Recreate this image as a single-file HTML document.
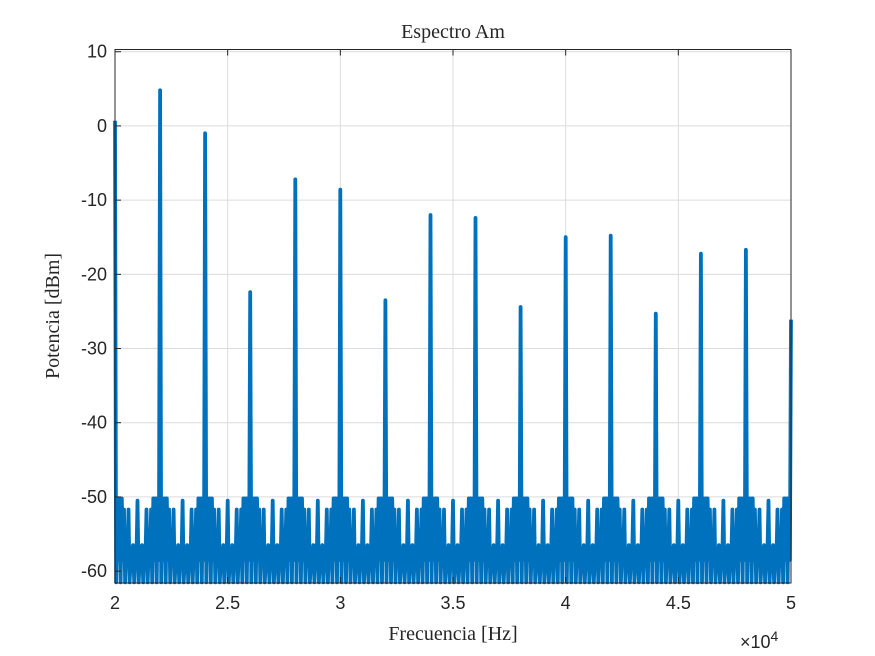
<!DOCTYPE html>
<html><head><meta charset="utf-8"><style>
body{margin:0;background:#fff;}
svg{display:block;}
.tk{font-family:"Liberation Sans",sans-serif;font-size:18px;fill:#262626;}
.lb{font-family:"Liberation Serif",serif;font-size:20px;fill:#262626;}
</style></head><body>
<svg id="c" width="875" height="656">
<rect width="875" height="656" fill="#fff"/>
<g id="grid"></g>
<g id="series"></g>
<rect x="115" y="49.5" width="676" height="533.5" fill="none" stroke="#262626" stroke-width="1"/>
<g id="ticks"></g>
<text class="lb" x="453" y="38" text-anchor="middle">Espectro Am</text>
<text class="lb" x="453" y="640" text-anchor="middle">Frecuencia [Hz]</text>
<text class="lb" transform="translate(59,316) rotate(-90)" text-anchor="middle">Potencia [dBm]</text>
<text class="tk" x="740" y="648">×10<tspan font-size="14" dy="-7">4</tspan></text>
</svg>
<script>
const peakFreqs=[20000,22000,24000,26000,28000,30000,32000,34000,36000,38000,40000,42000,44000,46000,48000,50000];
const peakValues=[0.7,4.8,-1,-22.4,-7.2,-8.6,-23.5,-12,-12.4,-24.4,-15,-14.8,-25.3,-17.2,-16.7,-26.1];
// envelope of sidebands by |offset| from nearest carrier, 100 Hz steps (0..1000)
const envelope=[0,-50.2,-50.2,-50.2,-51.7,-56.5,-51.7,-58,-56.5,-58,-50.5];
const floorValues=[-61.5,-58.5];
const xTicks=[20000,25000,30000,35000,40000,45000,50000];
const xTickLabels=["2","2.5","3","3.5","4","4.5","5"];
const yTicks=[10,0,-10,-20,-30,-40,-50,-60];
const X0=20000,X1=50000,Y0=-61.6,Y1=10.3;
const L=115,R=791,T=49.5,B=583;
const sx=f=>L+(f-X0)/(X1-X0)*(R-L);
const sy=v=>B-(v-Y0)/(Y1-Y0)*(B-T);
const NS="http://www.w3.org/2000/svg";
const grid=document.getElementById('grid'),ticks=document.getElementById('ticks'),ser=document.getElementById('series');
xTicks.forEach((t,i)=>{
 const x=sx(t);
 const g=document.createElementNS(NS,'line');
 
 
 g.setAttribute('x1',x);g.setAttribute('x2',x);g.setAttribute('y1',T);g.setAttribute('y2',B);g.setAttribute('stroke','#dcdcdc');
 grid.appendChild(g);
 const tk=document.createElementNS(NS,'line');
 
 
 tk.setAttribute('x1',x);tk.setAttribute('x2',x);tk.setAttribute('y1',B);tk.setAttribute('y2',B-6);tk.setAttribute('stroke','#262626');
 ticks.appendChild(tk);
 const tt=document.createElementNS(NS,'line');
 
 
 tt.setAttribute('x1',x);tt.setAttribute('x2',x);tt.setAttribute('y1',T);tt.setAttribute('y2',T+6);tt.setAttribute('stroke','#262626');
 ticks.appendChild(tt);
 const lb=document.createElementNS(NS,'text');
 
 
 lb.setAttribute('class','tk');lb.setAttribute('x',x);lb.setAttribute('y',609);lb.setAttribute('text-anchor','middle');
 lb.textContent=xTickLabels[i];ticks.appendChild(lb);
});
yTicks.forEach(t=>{
 const y=sy(t);
 const g=document.createElementNS(NS,'line');
 
 
 g.setAttribute('x1',L);g.setAttribute('x2',R);g.setAttribute('y1',y);g.setAttribute('y2',y);g.setAttribute('stroke','#dcdcdc');
 grid.appendChild(g);
 const tk=document.createElementNS(NS,'line');
 
 
 tk.setAttribute('x1',L);tk.setAttribute('x2',L+6);tk.setAttribute('y1',y);tk.setAttribute('y2',y);tk.setAttribute('stroke','#262626');
 ticks.appendChild(tk);
 const lb=document.createElementNS(NS,'text');
 
 
 lb.setAttribute('class','tk');lb.setAttribute('x',L-8);lb.setAttribute('y',y+6);lb.setAttribute('text-anchor','end');
 lb.textContent=String(t);ticks.appendChild(lb);
});
let pts=[];let k=0;
for(let f=X0;f<=X1;f+=50){
 let best=0;for(let i=0;i<peakFreqs.length;i++){if(Math.abs(f-peakFreqs[i])<Math.abs(f-peakFreqs[best]))best=i;}
 const d=Math.abs(f-peakFreqs[best]);
 let v;
 if(d===0) v=peakValues[best];
 else if(k%2===0){const idx=Math.min(envelope.length-1,Math.round(d/100));v=envelope[idx];}
 else v=floorValues[(k>>1)%2];
 pts.push(sx(f).toFixed(1)+','+sy(Math.max(v,Y0)).toFixed(1));
 k++;
}
const pl=document.createElementNS(NS,'polyline');


pl.setAttribute('points',pts.join(' '));
pl.setAttribute('fill','none');pl.setAttribute('stroke','#0072BD');pl.setAttribute('stroke-width','3.8');pl.setAttribute('stroke-linejoin','round');
ser.appendChild(pl);
</script>
</body></html>
